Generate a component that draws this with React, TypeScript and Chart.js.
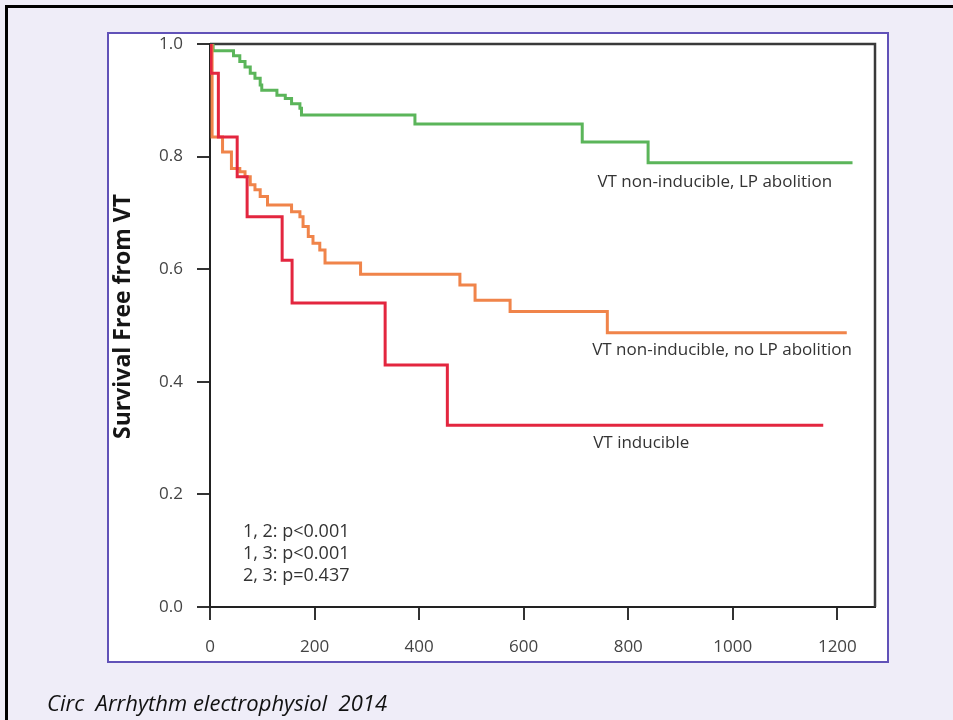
import React, { useEffect, useRef } from "react";
import { Chart, registerables } from "chart.js";

Chart.register(...registerables);

// ---- data ----
const greenTimes = [0, 6, 45, 57, 67, 77, 86, 96, 99, 128, 144, 156, 172, 175, 392, 712, 838, 1229];
const greenSurv = [1.0, 0.988, 0.979, 0.969, 0.959, 0.948, 0.939, 0.927, 0.918, 0.909, 0.903, 0.894, 0.886, 0.874, 0.858, 0.826, 0.789, 0.789];

const orangeTimes = [0, 4, 24, 41, 57, 67, 77, 86, 96, 110, 156, 172, 178, 188, 197, 210, 220, 288, 478, 507, 574, 760, 1218];
const orangeSurv = [1.0, 0.835, 0.808, 0.779, 0.773, 0.764, 0.75, 0.741, 0.729, 0.714, 0.702, 0.693, 0.676, 0.658, 0.646, 0.634, 0.611, 0.591, 0.572, 0.545, 0.525, 0.487, 0.487];

const redTimes = [0, 2, 16, 52, 71, 138, 157, 335, 454, 1173];
const redSurv = [1.0, 0.948, 0.835, 0.764, 0.693, 0.616, 0.54, 0.43, 0.323, 0.323];

const xTickValues = [0, 200, 400, 600, 800, 1000, 1200];
const yTickValues = [0, 0.2, 0.4, 0.6, 0.8, 1.0];

const seriesNames = ["VT inducible", "VT non-inducible, no LP abolition", "VT non-inducible, LP abolition"];
const pValueLines = ["1, 2: p<0.001", "1, 3: p<0.001", "2, 3: p=0.437"];
const yTitle = "Survival Free from VT";
const caption = "Circ  Arrhythm electrophysiol  2014";

// ---- placement / style (kept apart from data) ----
const labelAnchors: [number, number][] = [
  [733, 0.291],
  [731, 0.456],
  [741, 0.755],
];
const pValueAnchor: [number, number] = [63, 0.133];
const pValueStep = 0.039;
const seriesColors = ["#e3263f", "#f0844a", "#5bb55a"];
const FONT = "'Open Sans', 'DejaVu Sans', sans-serif";
const X_MAX = 1272;

function toPoints(t: number[], s: number[]) {
  return t.map((v, i) => ({ x: v, y: s[i] }));
}

const framePlugin = {
  id: "frame",
  beforeDatasetsDraw(chart: any) {
    const { ctx, chartArea: a } = chart;
    ctx.save();
    ctx.strokeStyle = "#3a3a3a";
    ctx.lineWidth = 2.5;
    ctx.beginPath();
    ctx.moveTo(a.left, a.top);
    ctx.lineTo(a.right, a.top);
    ctx.lineTo(a.right, a.bottom);
    ctx.stroke();
    ctx.restore();
  },
};

const textPlugin = {
  id: "texts",
  afterDatasetsDraw(chart: any) {
    const { ctx, scales, chartArea } = chart;
    const x = scales.x;
    const y = scales.y;
    ctx.save();
    ctx.fillStyle = "#333";
    ctx.textBaseline = "middle";
    ctx.textAlign = "left";
    ctx.font = `17px ${FONT}`;
    seriesNames.forEach((name, i) => {
      ctx.fillText(name, x.getPixelForValue(labelAnchors[i][0]), y.getPixelForValue(labelAnchors[i][1]));
    });
    ctx.font = `18px ${FONT}`;
    pValueLines.forEach((line, i) => {
      ctx.fillText(line, x.getPixelForValue(pValueAnchor[0]), y.getPixelForValue(pValueAnchor[1] - i * pValueStep));
    });
    ctx.restore();

    ctx.save();
    ctx.fillStyle = "#151515";
    ctx.font = `bold 23px ${FONT}`;
    ctx.textAlign = "center";
    ctx.textBaseline = "middle";
    ctx.translate(y.left + 13, (chartArea.top + chartArea.bottom) / 2 - 9);
    ctx.rotate(-Math.PI / 2);
    ctx.fillText(yTitle, 0, 0);
    ctx.restore();
  },
};

export default function App() {
  const canvasRef = useRef<HTMLCanvasElement | null>(null);

  useEffect(() => {
    if (!canvasRef.current) return;
    const sets = [
      toPoints(redTimes, redSurv),
      toPoints(orangeTimes, orangeSurv),
      toPoints(greenTimes, greenSurv),
    ];
    const chart = new Chart(canvasRef.current, {
      type: "line",
      data: {
        datasets: sets.map((d, i) => ({
          label: seriesNames[i],
          data: d,
          borderColor: seriesColors[i],
          backgroundColor: seriesColors[i],
          borderWidth: 3,
          pointRadius: 0,
          stepped: "before" as const,
          fill: false,
          tension: 0,
        })),
      },
      options: {
        animation: false,
        responsive: false,
        devicePixelRatio: 1,
        layout: { padding: { left: 110, top: 44, right: 78, bottom: 53 } },
        plugins: { legend: { display: false }, tooltip: { enabled: false } },
        scales: {
          x: {
            type: "linear",
            min: 0,
            max: X_MAX,
            afterBuildTicks: (scale: any) => {
              scale.ticks = xTickValues.map((v) => ({ value: v }));
            },
            afterFit: (scale: any) => {
              scale.height = 60;
            },
            border: { display: true, color: "#222", width: 2 },
            grid: { drawOnChartArea: false, drawTicks: true, tickLength: 13, color: "#333", lineWidth: 2 },
            ticks: {
              padding: 17,
              color: "#444",
              font: { family: FONT, size: 17 },
              maxRotation: 0,
              callback: (v: any) => String(v),
            },
          },
          y: {
            type: "linear",
            min: 0,
            max: 1,
            afterBuildTicks: (scale: any) => {
              scale.ticks = yTickValues.map((v) => ({ value: v }));
            },
            afterFit: (scale: any) => {
              scale.width = 100;
            },
            border: { display: true, color: "#222", width: 2 },
            grid: { drawOnChartArea: false, drawTicks: true, tickLength: 13, color: "#333", lineWidth: 2 },
            ticks: {
              padding: 14,
              color: "#444",
              font: { family: FONT, size: 17 },
              callback: (v: any) => Number(v).toFixed(1),
            },
          },
        },
      },
      plugins: [framePlugin, textPlugin],
    } as any);
    return () => chart.destroy();
  }, []);

  return (
    <div
      style={{
        position: "absolute",
        left: 0,
        top: 0,
        width: 953,
        height: 720,
        background: "#efedf8",
        overflow: "hidden",
      }}
    >
      <div
        style={{
          position: "absolute",
          left: 5,
          top: 5,
          width: 960,
          height: 730,
          borderTop: "3px solid #000",
          borderLeft: "3px solid #000",
          boxSizing: "border-box",
        }}
      />
      <div
        style={{
          position: "absolute",
          left: 107,
          top: 32,
          width: 782,
          height: 631,
          background: "#fff",
          border: "2px solid #6152b8",
          boxSizing: "border-box",
        }}
      />
      <canvas
        ref={canvasRef}
        width={953}
        height={720}
        style={{ position: "absolute", left: 0, top: 0, width: 953, height: 720 }}
      />
      <div
        style={{
          position: "absolute",
          left: 47,
          top: 690,
          fontFamily: FONT,
          fontStyle: "italic",
          fontSize: 22,
          lineHeight: "24px",
          color: "#111",
          whiteSpace: "pre",
        }}
      >
        {caption}
      </div>
    </div>
  );
}
